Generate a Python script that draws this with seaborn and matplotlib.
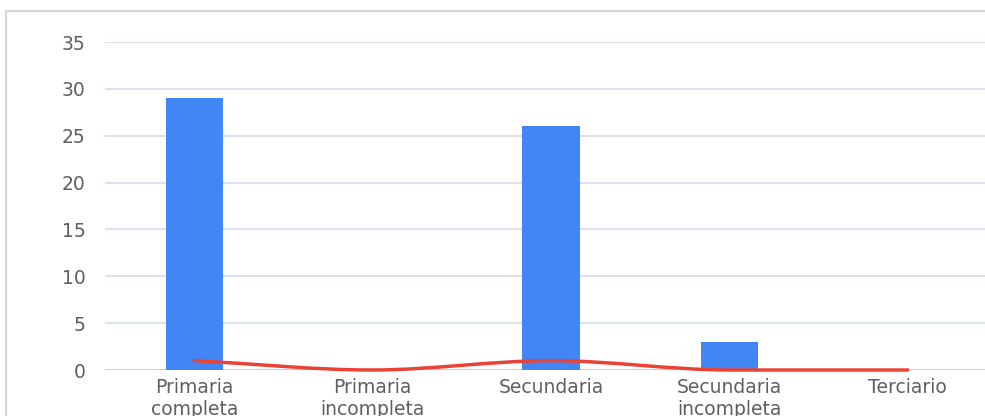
import numpy as np
import pandas as pd
import matplotlib
matplotlib.use("Agg")
import matplotlib.pyplot as plt
import seaborn as sns
from matplotlib.path import Path
from matplotlib.patches import PathPatch
from matplotlib.lines import Line2D

# Chart data
categories = ["Primaria\ncompleta", "Primaria\nincompleta", "Secundaria",
              "Secundaria\nincompleta", "Terciario"]
bar_values = [29, 0, 26, 3, 0]
line_values = [1, 0, 1, 0, 0]
y_ticks = [0, 5, 10, 15, 20, 25, 30, 35]

BAR_COLOR = "#4285F4"
LINE_COLOR = "#EA4335"
TEXT_COLOR = "#5f5f5f"

sns.set_style("white")
plt.rcParams["font.family"] = ["DejaVu Sans"]

fig = plt.figure(figsize=(9.85, 4.16), dpi=100)
ax = fig.add_axes([105 / 985, 46 / 416, 892 / 985, 328 / 416])

df = pd.DataFrame({"categoria": categories, "valor": bar_values})
sns.barplot(data=df, x="categoria", y="valor", order=categories,
            color=BAR_COLOR, saturation=1, width=0.32, linewidth=0,
            ax=ax, zorder=2)


def smooth_path(xs, ys):
    """Monotone cubic curve through the points, as Bezier segments."""
    xs = np.asarray(xs, float)
    ys = np.asarray(ys, float)
    d = np.diff(ys) / np.diff(xs)
    m = np.zeros_like(ys)
    m[0], m[-1] = d[0], d[-1]
    for i in range(1, len(ys) - 1):
        if d[i - 1] * d[i] > 0:
            m[i] = 2 / (1 / d[i - 1] + 1 / d[i])
    verts = [(xs[0], ys[0])]
    codes = [Path.MOVETO]
    for i in range(len(xs) - 1):
        h = xs[i + 1] - xs[i]
        verts += [(xs[i] + h / 3, ys[i] + m[i] * h / 3),
                  (xs[i + 1] - h / 3, ys[i + 1] - m[i + 1] * h / 3),
                  (xs[i + 1], ys[i + 1])]
        codes += [Path.CURVE4] * 3
    return Path(verts, codes)


ax.add_patch(PathPatch(smooth_path(np.arange(len(line_values)), line_values),
                       facecolor="none", edgecolor=LINE_COLOR, lw=2.5,
                       capstyle="round", zorder=3, clip_on=False))

ax.set_xlim(-0.5, len(categories) - 0.5)
ax.set_ylim(0, 35)
ax.set_yticks(y_ticks)
ax.set_xlabel("")
ax.set_ylabel("")

for y in y_ticks[1:]:
    ax.axhline(y, color="#d3e0f2", lw=1.3, zorder=0)
ax.axhline(0, color="#c8c8c8", lw=1.3, zorder=1)

for s in ax.spines.values():
    s.set_visible(False)

ax.tick_params(axis="y", length=0, pad=14, labelsize=13.5, labelcolor=TEXT_COLOR)
ax.tick_params(axis="x", length=0, pad=6, labelsize=13.5, labelcolor=TEXT_COLOR)
for lbl in ax.get_xticklabels():
    lbl.set_linespacing(1.15)

# Frame lines along the top and left of the figure
fig.add_artist(Line2D([5.5 / 985, 5.5 / 985], [0, 1 - 10.5 / 416],
                      transform=fig.transFigure, color="#d6d6d6", lw=1.6))
fig.add_artist(Line2D([5.5 / 985, 1], [1 - 10.5 / 416, 1 - 10.5 / 416],
                      transform=fig.transFigure, color="#d6d6d6", lw=1.6))

fig.savefig("out.png", dpi=100, facecolor="white")
